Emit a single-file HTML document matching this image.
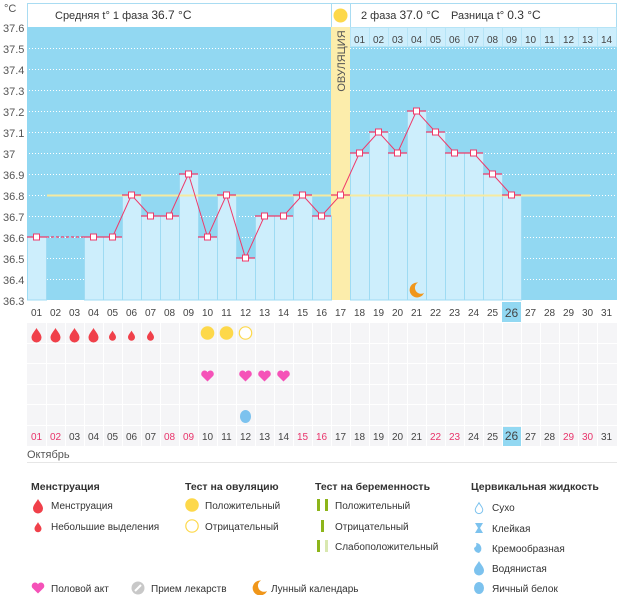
<!DOCTYPE html>
<html><head><meta charset="utf-8"><style>
html,body{margin:0;padding:0;background:#fff;}
svg{display:block;font-family:"Liberation Sans","DejaVu Sans",sans-serif;}
</style></head><body>
<svg width="626" height="595" viewBox="0 0 626 595" xmlns="http://www.w3.org/2000/svg">
<defs>
<path id="drop" d="M0,-7 C1.5,-4 5,-1 5,2.5 A5,5 0 0 1 -5,2.5 C-5,-1 -1.5,-4 0,-7Z"/>
<path id="heart" d="M0,5.5 L-5.8,-0.3 A3.2,3.2 0 0 1 0,-3.8 A3.2,3.2 0 0 1 5.8,-0.3 Z"/>
<path id="moon" d="M2,-7.5 A7.5,7.5 0 1 0 8,3 A6,6 0 0 1 2,-7.5Z"/>
</defs>

<rect x="27.5" y="3.5" width="589" height="24" fill="#fff" stroke="#a9dcf2"/>
<line x1="331.5" y1="3" x2="331.5" y2="27" stroke="#a9dcf2"/>
<line x1="350.5" y1="3" x2="350.5" y2="27" stroke="#a9dcf2"/>
<circle cx="340.5" cy="15.5" r="7" fill="#fdd84a"/>
<text x="55" y="19" font-size="11" fill="#333">Средняя t° 1 фаза <tspan font-size="12">36.7 °C</tspan></text>
<text x="361" y="19" font-size="11" fill="#333">2 фаза <tspan font-size="12">37.0 °C</tspan></text>
<text x="451" y="19" font-size="11" fill="#333">Разница t° <tspan font-size="12">0.3 °C</tspan></text>

<rect x="27" y="27" width="590" height="273" fill="#92d8f2"/>
<g stroke="#ffffff" stroke-dasharray="1,2" stroke-width="1">
<line x1="29" y1="48.5" x2="617" y2="48.5"/><line x1="29" y1="69.5" x2="617" y2="69.5"/>
<line x1="29" y1="90.5" x2="617" y2="90.5"/><line x1="29" y1="111.5" x2="617" y2="111.5"/>
<line x1="29" y1="132.5" x2="617" y2="132.5"/><line x1="29" y1="153.5" x2="617" y2="153.5"/>
<line x1="29" y1="174.5" x2="617" y2="174.5"/><line x1="29" y1="195.5" x2="617" y2="195.5"/>
<line x1="29" y1="216.5" x2="617" y2="216.5"/><line x1="29" y1="237.5" x2="617" y2="237.5"/>
<line x1="29" y1="258.5" x2="617" y2="258.5"/><line x1="29" y1="279.5" x2="617" y2="279.5"/>
</g>

<g fill="#cdeefc" stroke="#b6e4f6">
<rect x="350.5" y="27.5" width="19" height="19"/><rect x="369.5" y="27.5" width="19" height="19"/>
<rect x="388.5" y="27.5" width="19" height="19"/><rect x="407.5" y="27.5" width="19" height="19"/>
<rect x="426.5" y="27.5" width="19" height="19"/><rect x="445.5" y="27.5" width="19" height="19"/>
<rect x="464.5" y="27.5" width="19" height="19"/><rect x="483.5" y="27.5" width="19" height="19"/>
<rect x="502.5" y="27.5" width="19" height="19"/><rect x="521.5" y="27.5" width="19" height="19"/>
<rect x="540.5" y="27.5" width="19" height="19"/><rect x="559.5" y="27.5" width="19" height="19"/>
<rect x="578.5" y="27.5" width="19" height="19"/><rect x="597.5" y="27.5" width="19" height="19"/>
</g>
<g font-size="10" fill="#444" text-anchor="middle">
<text x="359.5" y="43">01</text><text x="378.5" y="43">02</text><text x="397.5" y="43">03</text>
<text x="416.5" y="43">04</text><text x="435.5" y="43">05</text><text x="454.5" y="43">06</text>
<text x="473.5" y="43">07</text><text x="492.5" y="43">08</text><text x="511.5" y="43">09</text>
<text x="530.5" y="43">10</text><text x="549.5" y="43">11</text><text x="568.5" y="43">12</text>
<text x="587.5" y="43">13</text><text x="606.5" y="43">14</text>
</g>

<rect x="331" y="27" width="19" height="273" fill="#fcedab"/>
<text transform="translate(345,61) rotate(-90)" font-size="11" fill="#555" text-anchor="middle">ОВУЛЯЦИЯ</text>

<g fill="#cdeefc" stroke="#9edbf3" stroke-width="1">
<rect x="27.5" y="237" width="19" height="63"/>
<rect x="84.5" y="237" width="19" height="63"/>
<rect x="103.5" y="237" width="19" height="63"/>
<rect x="122.5" y="195" width="19" height="105"/>
<rect x="141.5" y="216" width="19" height="84"/>
<rect x="160.5" y="216" width="19" height="84"/>
<rect x="179.5" y="174" width="19" height="126"/>
<rect x="198.5" y="237" width="19" height="63"/>
<rect x="217.5" y="195" width="19" height="105"/>
<rect x="236.5" y="258" width="19" height="42"/>
<rect x="255.5" y="216" width="19" height="84"/>
<rect x="274.5" y="216" width="19" height="84"/>
<rect x="293.5" y="195" width="19" height="105"/>
<rect x="312.5" y="216" width="19" height="84"/>
<rect x="350.5" y="153" width="19" height="147"/>
<rect x="369.5" y="132" width="19" height="168"/>
<rect x="388.5" y="153" width="19" height="147"/>
<rect x="407.5" y="111" width="19" height="189"/>
<rect x="426.5" y="132" width="19" height="168"/>
<rect x="445.5" y="153" width="19" height="147"/>
<rect x="464.5" y="153" width="19" height="147"/>
<rect x="483.5" y="174" width="19" height="126"/>
<rect x="502.5" y="195" width="19" height="105"/>
</g>

<line x1="47" y1="195.5" x2="590" y2="195.5" stroke="#f6eaa0" stroke-width="2"/>
<use href="#moon" x="416" y="290" fill="#f0961a"/>

<g stroke="#ef3a6a" stroke-width="1.2">
<line x1="27" y1="237" x2="46" y2="237"/>
<line x1="46" y1="237" x2="84" y2="237" stroke-dasharray="3,2"/>
<line x1="84" y1="237" x2="122" y2="237"/>
<line x1="122" y1="195" x2="141" y2="195"/>
<line x1="141" y1="216" x2="179" y2="216"/>
<line x1="179" y1="174" x2="198" y2="174"/>
<line x1="198" y1="237" x2="217" y2="237"/>
<line x1="217" y1="195" x2="236" y2="195"/>
<line x1="236" y1="258" x2="255" y2="258"/>
<line x1="255" y1="216" x2="293" y2="216"/>
<line x1="293" y1="195" x2="312" y2="195"/>
<line x1="312" y1="216" x2="331" y2="216"/>
<line x1="331" y1="195" x2="350" y2="195"/>
<line x1="350" y1="153" x2="369" y2="153"/>
<line x1="369" y1="132" x2="388" y2="132"/>
<line x1="388" y1="153" x2="407" y2="153"/>
<line x1="407" y1="111" x2="426" y2="111"/>
<line x1="426" y1="132" x2="445" y2="132"/>
<line x1="445" y1="153" x2="483" y2="153"/>
<line x1="483" y1="174" x2="502" y2="174"/>
<line x1="502" y1="195" x2="521" y2="195"/>
</g>
<polyline fill="none" stroke="#ef3a6a" stroke-width="1" points="93.5,237 112.5,237 131.5,195 150.5,216 169.5,216 188.5,174 207.5,237 226.5,195 245.5,258 264.5,216 283.5,216 302.5,195 321.5,216 340.5,195 359.5,153 378.5,132 397.5,153 416.5,111 435.5,132 454.5,153 473.5,153 492.5,174 511.5,195"/>
<g fill="#fff" stroke="#ef3a6a" stroke-width="1">
<rect x="33.5" y="234" width="6" height="6"/>
<rect x="90.5" y="234" width="6" height="6"/>
<rect x="109.5" y="234" width="6" height="6"/>
<rect x="128.5" y="192" width="6" height="6"/>
<rect x="147.5" y="213" width="6" height="6"/>
<rect x="166.5" y="213" width="6" height="6"/>
<rect x="185.5" y="171" width="6" height="6"/>
<rect x="204.5" y="234" width="6" height="6"/>
<rect x="223.5" y="192" width="6" height="6"/>
<rect x="242.5" y="255" width="6" height="6"/>
<rect x="261.5" y="213" width="6" height="6"/>
<rect x="280.5" y="213" width="6" height="6"/>
<rect x="299.5" y="192" width="6" height="6"/>
<rect x="318.5" y="213" width="6" height="6"/>
<rect x="337.5" y="192" width="6" height="6"/>
<rect x="356.5" y="150" width="6" height="6"/>
<rect x="375.5" y="129" width="6" height="6"/>
<rect x="394.5" y="150" width="6" height="6"/>
<rect x="413.5" y="108" width="6" height="6"/>
<rect x="432.5" y="129" width="6" height="6"/>
<rect x="451.5" y="150" width="6" height="6"/>
<rect x="470.5" y="150" width="6" height="6"/>
<rect x="489.5" y="171" width="6" height="6"/>
<rect x="508.5" y="192" width="6" height="6"/>
</g>

<g font-size="11" fill="#555">
<text x="4" y="12">°C</text>
<text x="3" y="32">37.6</text><text x="3" y="53">37.5</text><text x="3" y="74">37.4</text>
<text x="3" y="95">37.3</text><text x="3" y="116">37.2</text><text x="3" y="137">37.1</text>
<text x="3" y="158">37</text><text x="3" y="179">36.9</text><text x="3" y="200">36.8</text>
<text x="3" y="221">36.7</text><text x="3" y="242">36.6</text><text x="3" y="263">36.5</text>
<text x="3" y="284">36.4</text><text x="3" y="305">36.3</text>
</g>

<rect x="502" y="302" width="19" height="20" fill="#92d8f2"/>
<g font-size="10" fill="#444" text-anchor="middle">
<text x="36.5" y="316">01</text><text x="55.5" y="316">02</text><text x="74.5" y="316">03</text><text x="93.5" y="316">04</text>
<text x="112.5" y="316">05</text><text x="131.5" y="316">06</text><text x="150.5" y="316">07</text><text x="169.5" y="316">08</text>
<text x="188.5" y="316">09</text><text x="207.5" y="316">10</text><text x="226.5" y="316">11</text><text x="245.5" y="316">12</text>
<text x="264.5" y="316">13</text><text x="283.5" y="316">14</text><text x="302.5" y="316">15</text><text x="321.5" y="316">16</text>
<text x="340.5" y="316">17</text><text x="359.5" y="316">18</text><text x="378.5" y="316">19</text><text x="397.5" y="316">20</text>
<text x="416.5" y="316">21</text><text x="435.5" y="316">22</text><text x="454.5" y="316">23</text><text x="473.5" y="316">24</text>
<text x="492.5" y="316">25</text><text x="511.5" y="317" font-size="12">26</text><text x="530.5" y="316">27</text><text x="549.5" y="316">28</text>
<text x="568.5" y="316">29</text><text x="587.5" y="316">30</text><text x="606.5" y="316">31</text>
</g>

<g fill="#f5f5f7">
<rect x="27" y="323" width="590" height="20"/>
<rect x="27" y="344" width="590" height="19"/>
<rect x="27" y="364" width="590" height="20"/>
<rect x="27" y="385" width="590" height="19"/>
<rect x="27" y="405" width="590" height="20"/>
<rect x="27" y="426" width="590" height="20"/>
</g>
<g stroke="#fff" stroke-width="1">
<line x1="46.5" y1="323" x2="46.5" y2="446"/><line x1="65.5" y1="323" x2="65.5" y2="446"/><line x1="84.5" y1="323" x2="84.5" y2="446"/>
<line x1="103.5" y1="323" x2="103.5" y2="446"/><line x1="122.5" y1="323" x2="122.5" y2="446"/><line x1="141.5" y1="323" x2="141.5" y2="446"/>
<line x1="160.5" y1="323" x2="160.5" y2="446"/><line x1="179.5" y1="323" x2="179.5" y2="446"/><line x1="198.5" y1="323" x2="198.5" y2="446"/>
<line x1="217.5" y1="323" x2="217.5" y2="446"/><line x1="236.5" y1="323" x2="236.5" y2="446"/><line x1="255.5" y1="323" x2="255.5" y2="446"/>
<line x1="274.5" y1="323" x2="274.5" y2="446"/><line x1="293.5" y1="323" x2="293.5" y2="446"/><line x1="312.5" y1="323" x2="312.5" y2="446"/>
<line x1="331.5" y1="323" x2="331.5" y2="446"/><line x1="350.5" y1="323" x2="350.5" y2="446"/><line x1="369.5" y1="323" x2="369.5" y2="446"/>
<line x1="388.5" y1="323" x2="388.5" y2="446"/><line x1="407.5" y1="323" x2="407.5" y2="446"/><line x1="426.5" y1="323" x2="426.5" y2="446"/>
<line x1="445.5" y1="323" x2="445.5" y2="446"/><line x1="464.5" y1="323" x2="464.5" y2="446"/><line x1="483.5" y1="323" x2="483.5" y2="446"/>
<line x1="502.5" y1="323" x2="502.5" y2="446"/><line x1="521.5" y1="323" x2="521.5" y2="446"/><line x1="540.5" y1="323" x2="540.5" y2="446"/>
<line x1="559.5" y1="323" x2="559.5" y2="446"/><line x1="578.5" y1="323" x2="578.5" y2="446"/><line x1="597.5" y1="323" x2="597.5" y2="446"/>
</g>
<rect x="503" y="427" width="18" height="19" fill="#92d8f2"/>

<g fill="#f0404a">
<use href="#drop" x="36.5" y="335"/><use href="#drop" x="55.5" y="335"/>
<use href="#drop" x="74.5" y="335"/><use href="#drop" x="93.5" y="335"/>
<use href="#drop" transform="translate(112.5,335.5) scale(0.7)"/>
<use href="#drop" transform="translate(131.5,335.5) scale(0.7)"/>
<use href="#drop" transform="translate(150.5,335.5) scale(0.7)"/>
</g>
<circle cx="207.5" cy="333" r="6.8" fill="#fdd84a"/>
<circle cx="226.5" cy="333" r="6.8" fill="#fdd84a"/>
<circle cx="245.5" cy="333" r="6.2" fill="#fff" stroke="#fdd84a" stroke-width="1.2"/>
<g fill="#f552b8">
<use href="#heart" x="207.5" y="376"/><use href="#heart" x="245.5" y="376"/>
<use href="#heart" x="264.5" y="376"/><use href="#heart" x="283.5" y="376"/>
</g>
<ellipse cx="245.5" cy="416.5" rx="5.5" ry="6.5" fill="#7cc2ee"/>

<g font-size="10" fill="#444" text-anchor="middle">
<text x="36.5" y="440" fill="#e8336a">01</text><text x="55.5" y="440" fill="#e8336a">02</text><text x="74.5" y="440">03</text><text x="93.5" y="440">04</text>
<text x="112.5" y="440">05</text><text x="131.5" y="440">06</text><text x="150.5" y="440">07</text><text x="169.5" y="440" fill="#e8336a">08</text>
<text x="188.5" y="440" fill="#e8336a">09</text><text x="207.5" y="440">10</text><text x="226.5" y="440">11</text><text x="245.5" y="440">12</text>
<text x="264.5" y="440">13</text><text x="283.5" y="440">14</text><text x="302.5" y="440" fill="#e8336a">15</text><text x="321.5" y="440" fill="#e8336a">16</text>
<text x="340.5" y="440">17</text><text x="359.5" y="440">18</text><text x="378.5" y="440">19</text><text x="397.5" y="440">20</text>
<text x="416.5" y="440">21</text><text x="435.5" y="440" fill="#e8336a">22</text><text x="454.5" y="440" fill="#e8336a">23</text><text x="473.5" y="440">24</text>
<text x="492.5" y="440">25</text><text x="511.5" y="440" font-size="12">26</text><text x="530.5" y="440">27</text><text x="549.5" y="440">28</text>
<text x="568.5" y="440" fill="#e8336a">29</text><text x="587.5" y="440" fill="#e8336a">30</text><text x="606.5" y="440">31</text>
</g>
<text x="27" y="458" font-size="11" fill="#555">Октябрь</text>
<line x1="27" y1="462.5" x2="617" y2="462.5" stroke="#e6e6e6"/>

<g font-size="10.5" font-weight="bold" fill="#333">
<text x="31" y="490">Менструация</text>
<text x="185" y="490">Тест на овуляцию</text>
<text x="315" y="490">Тест на беременность</text>
<text x="471" y="490">Цервикальная жидкость</text>
</g>
<g font-size="10" fill="#333">
<text x="51" y="509">Менструация</text>
<text x="51" y="530">Небольшие выделения</text>
<text x="205" y="509">Положительный</text>
<text x="205" y="530">Отрицательный</text>
<text x="335" y="509">Положительный</text>
<text x="335" y="530">Отрицательный</text>
<text x="335" y="550">Слабоположительный</text>
<text x="492" y="511">Сухо</text>
<text x="492" y="532">Клейкая</text>
<text x="492" y="552">Кремообразная</text>
<text x="492" y="572">Водянистая</text>
<text x="492" y="592">Яичный белок</text>
<text x="51" y="592">Половой акт</text>
<text x="151" y="592">Прием лекарств</text>
<text x="271" y="592">Лунный календарь</text>
</g>
<use href="#drop" x="38" y="506" fill="#f0404a"/>
<use href="#drop" transform="translate(38,527) scale(0.7)" fill="#f0404a"/>
<circle cx="192" cy="505" r="6.8" fill="#fdd84a"/>
<circle cx="192" cy="526" r="6.2" fill="#fff" stroke="#fdd84a" stroke-width="1.2"/>
<g fill="#8db51a">
<rect x="317" y="499" width="3" height="12"/><rect x="325" y="499" width="3" height="12"/>
<rect x="321" y="520" width="3" height="12"/>
<rect x="317" y="540" width="3" height="12"/>
</g>
<rect x="325" y="540" width="3" height="12" fill="#d9e8b0"/>
<use href="#drop" transform="translate(479,508) scale(0.75)" fill="#fff" stroke="#7cc2ee" stroke-width="1.3"/>
<path d="M475,523 h8 l-3,5 l3,5 h-8 l3,-5 z" fill="#7cc2ee"/>
<path d="M476,543 A5.5,5.5 0 0 1 479,553 A5,5 0 0 1 474,548 A5,4 0 0 0 476,543Z" fill="#7cc2ee"/>
<use href="#drop" x="479" y="568" fill="#7cc2ee"/>
<ellipse cx="479" cy="588" rx="5" ry="6" fill="#7cc2ee"/>
<use href="#heart" x="38" y="588" fill="#f552b8"/>
<circle cx="138" cy="588" r="6.5" fill="#c8c8c8"/>
<line x1="135" y1="591" x2="141" y2="585" stroke="#fff" stroke-width="2"/>
<use href="#moon" x="259" y="588" fill="#f0961a"/>
</svg>
</body></html>
